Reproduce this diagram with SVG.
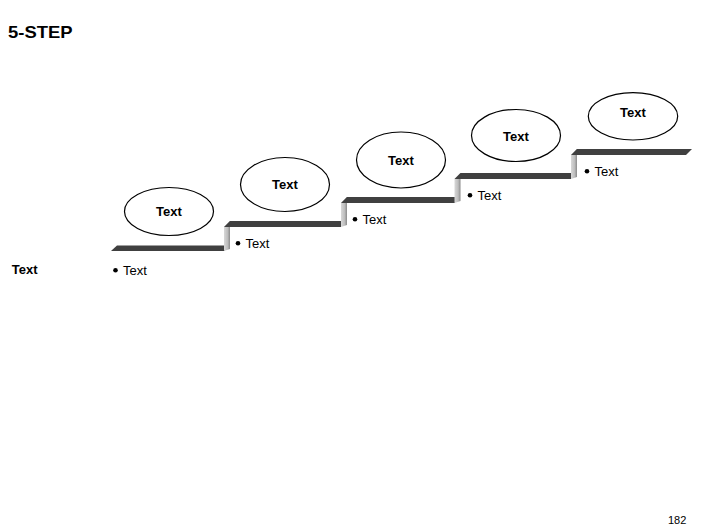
<svg xmlns="http://www.w3.org/2000/svg" width="706" height="529" viewBox="0 0 706 529">
<defs>
<linearGradient id="rg" x1="0" y1="0" x2="1" y2="0">
<stop offset="0" stop-color="#d8d8d8"/>
<stop offset="0.6" stop-color="#bdbdbd"/>
<stop offset="1" stop-color="#8a8a8a"/>
</linearGradient>
</defs>
<style>
.bar{fill:#404040}
.riser{fill:url(#rg)}
.oval{fill:#fff;stroke:#000;stroke-width:1.2}
.lbl{font-family:"Liberation Sans",Arial,sans-serif;font-weight:bold;font-size:13px;fill:#000;text-anchor:middle}
.bul{font-family:"Liberation Sans",Arial,sans-serif;font-size:13px;fill:#000}
.dot{fill:#000}
.title{font-family:"Liberation Sans",Arial,sans-serif;font-weight:bold;font-size:16.5px;fill:#000}
</style>
<rect width="706" height="529" fill="#fff"/>
<text class="title" x="8" y="38" textLength="64.5" lengthAdjust="spacingAndGlyphs">5-STEP</text>
<g id="stairs">
<polygon class="bar" points="111,251 117,245.5 225,245.5 225,251"/>
<polygon class="riser" points="224,227 230,221 230,249 224,251"/>
<polygon class="bar" points="224,227 230,221 341,221 341,227"/>
<polygon class="riser" points="341,203 347,197 347,225 341,227"/>
<polygon class="bar" points="341,203 347,197 455,197 455,203"/>
<polygon class="riser" points="454.5,179 460.5,173 460.5,201 454.5,203"/>
<polygon class="bar" points="454.5,179 460.5,173 571,173 571,179"/>
<polygon class="riser" points="571,155 577,149 577,177 571,179"/>
<polygon class="bar" points="571,155 577,149 692,149 686,155"/>
</g>
<g id="step1">
<ellipse class="oval" cx="169" cy="211.5" rx="44.5" ry="24"/>
<text class="lbl" x="169" y="215.5">Text</text>
<circle class="dot" cx="115.5" cy="270.2" r="2.3"/>
<text class="bul" x="123" y="274.5">Text</text>
</g>
<g id="step2">
<ellipse class="oval" cx="285" cy="184.5" rx="44.5" ry="27"/>
<text class="lbl" x="285" y="188.5">Text</text>
<circle class="dot" cx="238" cy="243.3" r="2.3"/>
<text class="bul" x="245.5" y="247.5">Text</text>
</g>
<g id="step3">
<ellipse class="oval" cx="401" cy="160" rx="44.5" ry="28"/>
<text class="lbl" x="401" y="165">Text</text>
<circle class="dot" cx="355" cy="219.3" r="2.3"/>
<text class="bul" x="362.5" y="223.5">Text</text>
</g>
<g id="step4">
<ellipse class="oval" cx="516" cy="135.5" rx="44.5" ry="26"/>
<text class="lbl" x="516" y="141">Text</text>
<circle class="dot" cx="470" cy="195.3" r="2.3"/>
<text class="bul" x="477.5" y="199.5">Text</text>
</g>
<g id="step5">
<ellipse class="oval" cx="633" cy="116.3" rx="44.7" ry="23.7"/>
<text class="lbl" x="633" y="117">Text</text>
<circle class="dot" cx="587" cy="171.3" r="2.3"/>
<text class="bul" x="594.5" y="175.5">Text</text>
</g>
<text class="lbl" x="24.7" y="274">Text</text>
<text class="bul" x="668" y="524" style="font-size:11px">182</text>
</svg>
